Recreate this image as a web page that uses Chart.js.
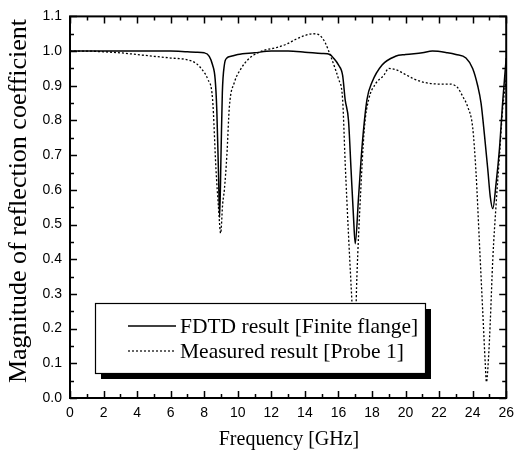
<!DOCTYPE html>
<html>
<head>
<meta charset="utf-8">
<script src="https://cdn.jsdelivr.net/npm/chart.js@4/dist/chart.umd.min.js"></script>
<style>
  html, body { margin: 0; padding: 0; background: #fff; }
  #wrap { width: 521px; height: 460px; }
</style>
</head>
<body>
<div id="wrap"><canvas id="chart" width="521" height="460"></canvas></div>
<script>
// FDTD result, finite flange (solid)
const fdtdFreq = [0, 1, 2, 3, 4, 5, 6, 7, 7.5, 8, 8.3, 8.5, 8.65, 8.75, 8.85, 8.92, 9.0, 9.08, 9.2, 9.35, 9.6, 10, 11, 12, 13, 14, 15, 15.5, 15.7, 16.0, 16.25, 16.4, 16.6, 16.75, 16.9, 17.0, 17.2, 17.4, 17.7, 18.0, 18.6, 19.4, 20, 21, 21.6, 22.5, 23.0, 23.6, 24.0, 24.3, 24.5, 24.7, 24.9, 25.05, 25.2, 25.4, 25.6, 25.8, 26];
const fdtdMag = [1.0, 1.0, 1.0, 1.0, 1.0, 1.0, 1.0, 0.998, 0.997, 0.995, 0.985, 0.96, 0.92, 0.83, 0.65, 0.52, 0.7, 0.88, 0.96, 0.98, 0.985, 0.99, 0.995, 1.0, 1.0, 0.997, 0.993, 0.99, 0.98, 0.96, 0.93, 0.86, 0.8, 0.66, 0.52, 0.445, 0.58, 0.72, 0.86, 0.91, 0.96, 0.985, 0.99, 0.995, 1.0, 0.995, 0.99, 0.98, 0.95, 0.9, 0.85, 0.76, 0.66, 0.58, 0.546, 0.62, 0.72, 0.86, 0.98];

// Measured result, probe 1 (dotted)
const measFreq = [0, 1, 2, 3, 4, 5, 6, 7, 7.5, 7.9, 8.2, 8.5, 8.7, 8.85, 8.98, 9.1, 9.2, 9.35, 9.5, 9.8, 10.2, 10.6, 11.0, 11.6, 12.3, 12.9, 13.5, 14.0, 14.5, 14.9, 15.2, 15.5, 15.8, 16.0, 16.25, 16.4, 16.6, 16.8, 16.95, 17.1, 17.3, 17.55, 17.8, 18.2, 18.7, 19.0, 19.5, 19.9, 20.5, 21.1, 22.0, 22.6, 23.1, 23.4, 23.7, 24.0, 24.2, 24.4, 24.6, 24.75, 24.82, 24.95, 25.05, 25.2, 25.4, 25.6, 25.8, 26];
const measMag = [1.0, 1.0, 0.998, 0.995, 0.99, 0.985, 0.98, 0.975, 0.965, 0.945, 0.92, 0.86, 0.66, 0.55, 0.475, 0.56, 0.6, 0.7, 0.84, 0.91, 0.95, 0.975, 0.99, 1.003, 1.01, 1.02, 1.035, 1.045, 1.05, 1.045, 1.025, 0.99, 0.95, 0.92, 0.86, 0.68, 0.47, 0.28, 0.12, 0.35, 0.57, 0.78, 0.86, 0.905, 0.93, 0.95, 0.945, 0.935, 0.92, 0.91, 0.905, 0.905, 0.895, 0.87, 0.84, 0.78, 0.65, 0.45, 0.25, 0.1, 0.046, 0.12, 0.22, 0.4, 0.56, 0.7, 0.84, 0.92];

const seriesNames = ['FDTD result [Finite flange]', 'Measured result [Probe 1]'];
const xTicks = [0, 2, 4, 6, 8, 10, 12, 14, 16, 18, 20, 22, 24, 26];
const yTicks = [0.0, 0.1, 0.2, 0.3, 0.4, 0.5, 0.6, 0.7, 0.8, 0.9, 1.0, 1.1];

const serif = '"Liberation Serif", "Times New Roman", serif';
const narrow = '"Liberation Sans Narrow", "Liberation Sans", Arial, sans-serif';

const toPoints = (xs, ys) => xs.map((x, i) => ({ x: x, y: ys[i] }));

// box, inward ticks, axis titles and the boxed legend
const framePlugin = {
    id: 'frame',
    afterDatasetsDraw(chart) {
        const ctx = chart.ctx;
        const lx = 95, ly = 303, lw = 330, lh = 70;
        ctx.save();
        ctx.fillStyle = '#000';
        ctx.fillRect(lx + 6, ly + 6, lw, lh);
        ctx.fillStyle = '#fff';
        ctx.fillRect(lx, ly, lw, lh);
        ctx.strokeStyle = '#000';
        ctx.lineWidth = 1.2;
        ctx.strokeRect(lx + 0.5, ly + 0.5, lw, lh);

        const rows = [ly + 23, ly + 48];
        ctx.font = '21.5px ' + serif;
        ctx.textBaseline = 'middle';
        ctx.fillStyle = '#000';
        rows.forEach((ry, i) => {
            ctx.beginPath();
            ctx.lineWidth = i === 0 ? 1.5 : 1.2;
            ctx.setLineDash(i === 0 ? [] : [2, 2]);
            ctx.moveTo(128, ry);
            ctx.lineTo(176, ry);
            ctx.stroke();
            ctx.setLineDash([]);
            ctx.fillText(seriesNames[i], 180, ry + 1);
        });
        ctx.restore();
    },
    afterDraw(chart) {
        const ctx = chart.ctx;
        const a = chart.chartArea;
        const xs = chart.scales.x, ys = chart.scales.y;
        ctx.save();
        ctx.strokeStyle = '#000';
        ctx.lineWidth = 2;
        ctx.strokeRect(a.left, a.top, a.right - a.left, a.bottom - a.top);

        ctx.lineWidth = 1.5;
        ctx.beginPath();
        for (let v = 0; v <= 26; v += 1) {
            const px = Math.round(xs.getPixelForValue(v)) + 0.5;
            const len = v % 2 === 0 ? 7 : 4;
            ctx.moveTo(px, a.bottom); ctx.lineTo(px, a.bottom - len);
            ctx.moveTo(px, a.top); ctx.lineTo(px, a.top + len);
        }
        for (let k = 0; k <= 22; k++) {
            const py = Math.round(ys.getPixelForValue(k * 0.05)) + 0.5;
            const len = k % 2 === 0 ? 7 : 4;
            ctx.moveTo(a.left, py); ctx.lineTo(a.left + len, py);
            ctx.moveTo(a.right, py); ctx.lineTo(a.right - len, py);
        }
        ctx.stroke();

        ctx.fillStyle = '#000';
        ctx.textAlign = 'center';
        ctx.textBaseline = 'middle';
        ctx.font = '20px ' + serif;
        ctx.fillText('Frequency [GHz]', 289, 440);
        ctx.font = '26px ' + serif;
        ctx.translate(19, 201);
        ctx.rotate(-Math.PI / 2);
        ctx.fillText('Magnitude of reflection coefficient', 0, 0);
        ctx.restore();
    }
};

new Chart(document.getElementById('chart'), {
    type: 'line',
    data: {
        datasets: [
            {
                label: seriesNames[0],
                data: toPoints(fdtdFreq, fdtdMag),
                borderColor: '#000',
                borderWidth: 1.5,
                pointRadius: 0,
                cubicInterpolationMode: 'monotone'
            },
            {
                label: seriesNames[1],
                data: toPoints(measFreq, measMag),
                borderColor: '#000',
                borderWidth: 1.3,
                borderDash: [2, 2],
                pointRadius: 0,
                cubicInterpolationMode: 'monotone'
            }
        ]
    },
    options: {
        responsive: false,
        animation: false,
        layout: { padding: { top: 15, right: 8, left: 0, bottom: 0 } },
        plugins: {
            legend: { display: false },
            tooltip: { enabled: false }
        },
        scales: {
            x: {
                type: 'linear',
                min: 0,
                max: 26,
                afterFit: (s) => { s.height = 62; },
                afterBuildTicks: (s) => { s.ticks = xTicks.map(v => ({ value: v })); },
                grid: { display: false, drawTicks: false },
                border: { display: false },
                ticks: {
                    color: '#000',
                    padding: 7,
                    font: { family: narrow, size: 14 },
                    callback: (v) => String(v)
                }
            },
            y: {
                type: 'linear',
                min: 0,
                max: 1.1,
                afterFit: (s) => { s.width = 70; },
                afterBuildTicks: (s) => { s.ticks = yTicks.map(v => ({ value: v })); },
                grid: { display: false, drawTicks: false },
                border: { display: false },
                ticks: {
                    color: '#000',
                    padding: 8,
                    font: { family: narrow, size: 14 },
                    callback: (v) => Number(v).toFixed(1)
                }
            }
        }
    },
    plugins: [framePlugin]
});
</script>
</body>
</html>
